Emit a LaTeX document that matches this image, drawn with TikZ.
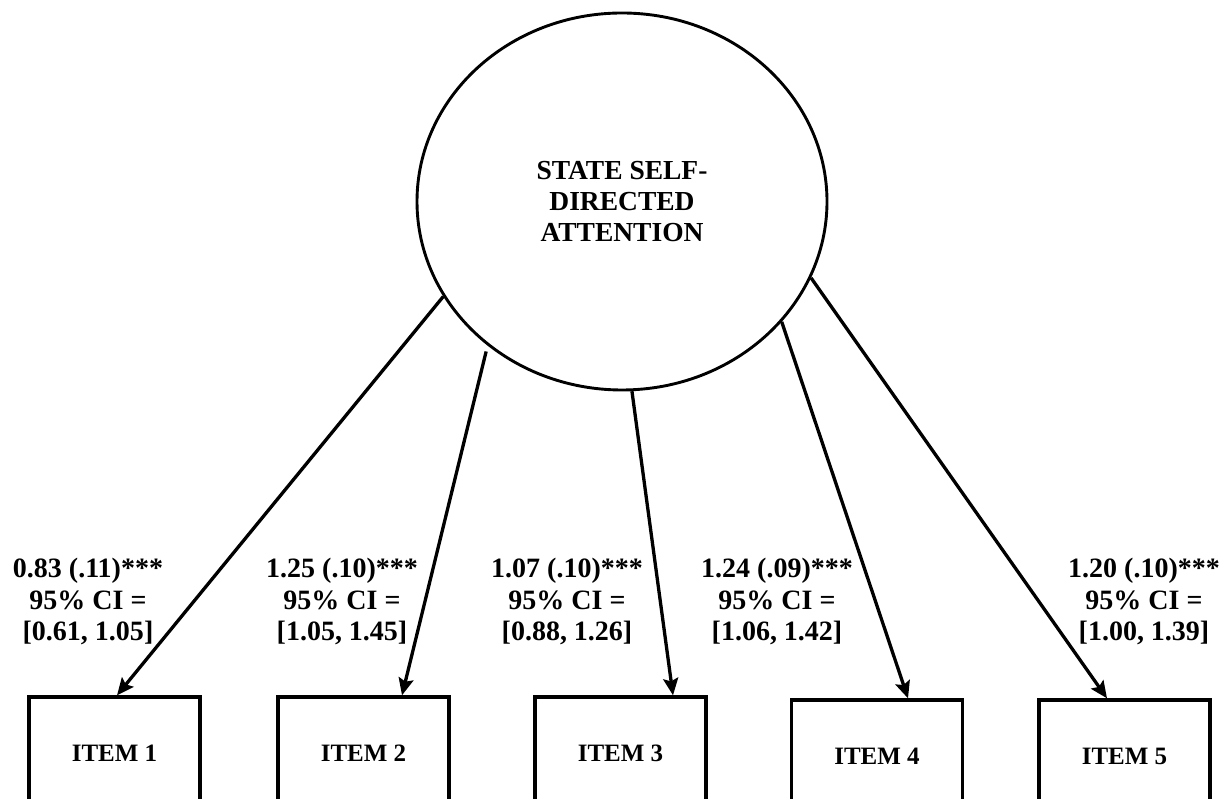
\documentclass[tikz,border=0pt]{standalone}
\usepackage{fontspec}
\setmainfont{Liberation Serif}
\usetikzlibrary{shapes.geometric,arrows.meta}
\begin{document}
\begin{tikzpicture}[x=1pt,y=1pt,
  lat/.style={ellipse,draw,line width=2.9pt,minimum width=410pt,minimum height=377pt,inner sep=0pt,align=center,font=\fontsize{27.5}{31}\selectfont\bfseries},
  obs/.style={rectangle,draw,line width=3.4pt,minimum width=171pt,minimum height=112pt,inner sep=0pt,font=\fontsize{25}{30}\selectfont\bfseries},
  lab/.style={align=center,font=\fontsize{28}{31.5}\selectfont\bfseries,inner sep=0pt},
  load/.style={line width=3.3pt,-{Stealth[length=17pt,width=15pt,inset=3pt]}}]
\useasboundingbox (0,0) rectangle (1228,798);
\node[lat] (F) at (622,596.5) {STATE SELF-\\DIRECTED\\ATTENTION};
\node[obs] (b1) at (114.5,45) {ITEM 1};
\node[obs] (b2) at (363.5,45) {ITEM 2};
\node[obs] (b3) at (620.5,45) {ITEM 3};
\node[obs] (b4) at (877,42) {ITEM 4};
\node[obs] (b5) at (1124.5,42) {ITEM 5};
\coordinate (t1) at (117,0);
\coordinate (t2) at (402,0);
\coordinate (t3) at (673,0);
\coordinate (t4) at (908,0);
\coordinate (t5) at (1107,0);
\draw[load] (F.208.6) -- (t1 |- b1.north);
\draw[load,shorten <=6pt] (F.227.9) -- (t2 |- b2.north);
\draw[load] (F.273.9) -- (t3 |- b3.north);
\draw[load] (F.323) -- (t4 |- b4.north);
\draw[load] (F.338.6) -- (t5 |- b5.north);
\node[lab] (l1) at (88,196.5) {0.83 (.11)***\\95\% CI =\\{}[0.61, 1.05]};
\node[lab] (l2) at (342,196.5) {1.25 (.10)***\\95\% CI =\\{}[1.05, 1.45]};
\node[lab] (l3) at (567,196.5) {1.07 (.10)***\\95\% CI =\\{}[0.88, 1.26]};
\node[lab] (l4) at (777,196.5) {1.24 (.09)***\\95\% CI =\\{}[1.06, 1.42]};
\node[lab] (l5) at (1144,196.5) {1.20 (.10)***\\95\% CI =\\{}[1.00, 1.39]};
\end{tikzpicture}
\end{document}
